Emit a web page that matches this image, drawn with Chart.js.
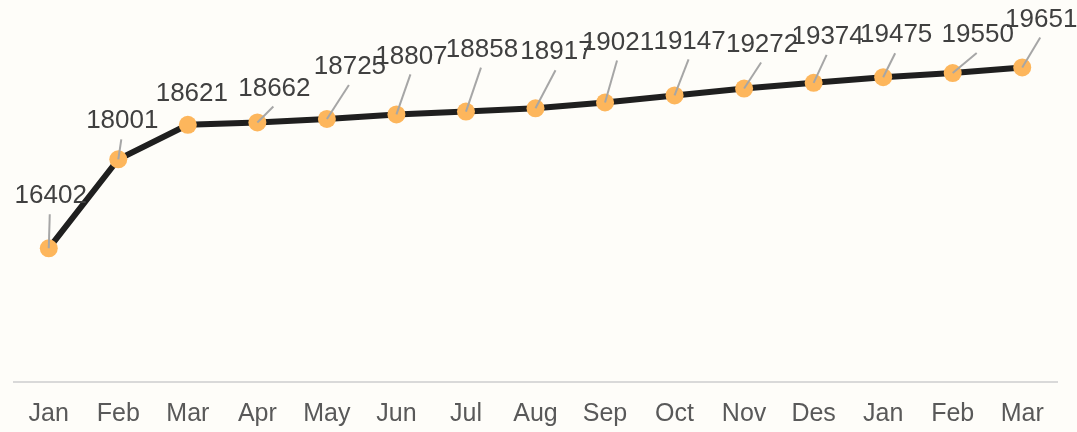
<!DOCTYPE html>
<html>
<head>
<meta charset="utf-8">
<title>Monthly trend</title>
<script src="https://cdn.jsdelivr.net/npm/chart.js@4"></script>
<style>
  html, body { margin: 0; padding: 0; background: #fefdf9; }
  #wrap { width: 1077px; height: 432px; position: relative; }
</style>
</head>
<body>
<div id="wrap"><canvas id="trendChart"></canvas></div>
<script>
// ==========================================
// DATA
// ==========================================
const months = ['Jan', 'Feb', 'Mar', 'Apr', 'May', 'Jun', 'Jul', 'Aug', 'Sep', 'Oct', 'Nov', 'Des', 'Jan', 'Feb', 'Mar'];
const values = [16402, 18001, 18621, 18662, 18725, 18807, 18858, 18917, 19021, 19147, 19272, 19374, 19475, 19550, 19651];

// where each value label sits, relative to its point (dx, dy in px)
const labelOffsets = [
    [2, -52], [4, -38], [4, -31], [17, -34], [23, -52],
    [15, -58], [16, -62], [21, -56], [13, -60], [15, -54],
    [18, -44], [14, -46], [13, -42], [25, -38], [19, -48]
];

// ==========================================
// LABELS + LEADER LINES PLUGIN
// ==========================================
const leaderLabels = {
    id: 'leaderLabels',
    afterDatasetsDraw(chart) {
        const ctx = chart.ctx;
        const meta = chart.getDatasetMeta(0);
        ctx.save();
        meta.data.forEach((pt, i) => {
            const off = labelOffsets[i];
            const lx = pt.x + off[0];
            const ly = pt.y + off[1];
            // leader line ends a bit under the label
            const ex = lx - 1;
            const ey = ly + 18;
            const len = Math.hypot(ex - pt.x, ey - pt.y);
            if (len > 15) {
                ctx.strokeStyle = '#a6a6a6';
                ctx.lineWidth = 2;
                ctx.beginPath();
                ctx.moveTo(pt.x, pt.y);
                ctx.lineTo(ex, ey);
                ctx.stroke();
            }
            ctx.fillStyle = '#404040';
            ctx.font = '26px "Liberation Sans", Arial, sans-serif';
            ctx.textAlign = 'center';
            ctx.textBaseline = 'middle';
            ctx.fillText(String(values[i]), lx, ly);
        });
        ctx.restore();
    }
};

// ==========================================
// CHART
// ==========================================
const ctx = document.getElementById('trendChart').getContext('2d');

const trendChart = new Chart(ctx, {
    type: 'line',
    data: {
        labels: months,
        datasets: [{
            data: values,
            borderColor: '#1f1f1f',
            borderWidth: 6,
            pointBackgroundColor: '#fdb65c',
            pointBorderColor: '#fdb65c',
            pointBorderWidth: 0,
            pointRadius: 9,
            tension: 0,
            clip: false
        }]
    },
    options: {
        responsive: true,
        maintainAspectRatio: false,
        animation: false,
        layout: {
            padding: { top: 48, left: 14, right: 20, bottom: 4 }
        },
        plugins: {
            legend: { display: false },
            tooltip: { enabled: false }
        },
        scales: {
            x: {
                offset: true,
                grid: { display: false, drawTicks: false },
                border: { display: true, color: '#d9d9d9', width: 2 },
                ticks: {
                    color: '#595959',
                    font: { family: '"Liberation Sans", Arial, sans-serif', size: 25 },
                    padding: 17,
                    maxRotation: 0,
                    autoSkip: false
                },
                afterFit(scale) { scale.height = 46; }
            },
            y: {
                display: false,
                min: 14000,
                max: 20000
            }
        }
    },
    plugins: [leaderLabels]
});
</script>
</body>
</html>
